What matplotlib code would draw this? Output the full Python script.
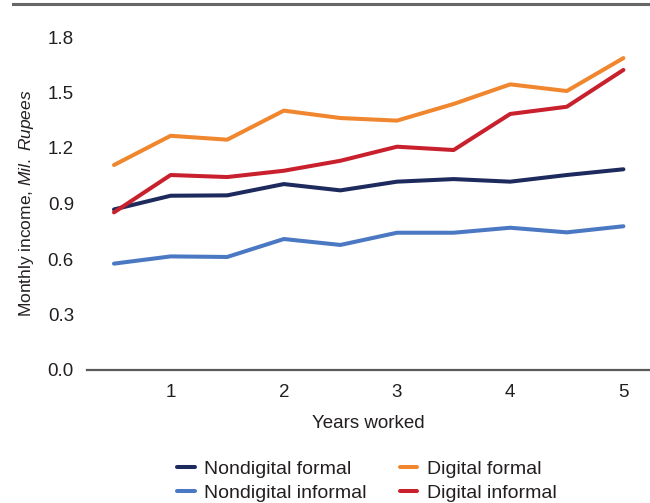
"""
Monthly income by years worked, digital vs nondigital workers
"""

import matplotlib
matplotlib.use('Agg')
import matplotlib.pyplot as plt
from matplotlib.lines import Line2D

# 数据
years = [0.5, 1, 1.5, 2, 2.5, 3, 3.5, 4, 4.5, 5]
nondigital_formal = [0.868, 0.942, 0.944, 1.005, 0.971, 1.018, 1.032, 1.018, 1.054, 1.085]
nondigital_informal = [0.575, 0.614, 0.611, 0.708, 0.676, 0.742, 0.742, 0.769, 0.744, 0.777]
digital_formal = [1.108, 1.266, 1.245, 1.402, 1.362, 1.348, 1.438, 1.544, 1.508, 1.686]
digital_informal = [0.852, 1.054, 1.043, 1.077, 1.131, 1.207, 1.189, 1.384, 1.423, 1.622]

y_ticks = [0.0, 0.3, 0.6, 0.9, 1.2, 1.5, 1.8]
x_ticks = [1, 2, 3, 4, 5]

plt.rcParams['font.family'] = ['Liberation Sans Narrow', 'Liberation Sans', 'DejaVu Sans']
plt.rcParams['mathtext.fontset'] = 'custom'
plt.rcParams['mathtext.rm'] = 'Liberation Sans'
plt.rcParams['mathtext.it'] = 'Liberation Sans:italic'

TEXT = '#231f20'

fig = plt.figure(figsize=(6.5, 5.03), dpi=100)
ax = fig.add_axes([87 / 650, 133 / 503, 563 / 650, 350 / 503])

ax.plot(years, nondigital_formal, color='#1c2a5e', lw=2.9, solid_capstyle='round', label='Nondigital formal')
ax.plot(years, nondigital_informal, color='#4a78c2', lw=2.9, solid_capstyle='round', label='Nondigital informal')
ax.plot(years, digital_formal, color='#f0862e', lw=2.9, solid_capstyle='round', label='Digital formal')
ax.plot(years, digital_informal, color='#c8202d', lw=2.9, solid_capstyle='round', label='Digital informal')

ax.set_xlim(0.5 - 27 / 113.2, 0.5 + 536 / 113.2)
ax.set_ylim(0, 350 / 185)
ax.set_xticks(x_ticks)
ax.set_yticks(y_ticks)
ax.set_yticklabels([f'{v:.1f}' for v in y_ticks])
ax.tick_params(axis='both', length=0, labelsize=13.5, colors=TEXT)
ax.tick_params(axis='x', pad=10)
ax.tick_params(axis='y', pad=9.4)

for side in ['top', 'right', 'left']:
    ax.spines[side].set_visible(False)
ax.spines['bottom'].set_color('#5a5a5a')
ax.spines['bottom'].set_linewidth(1.6)

ax.set_xlabel('Years worked', fontsize=13.5, color=TEXT, labelpad=10)
ax.set_ylabel(r'Monthly income, $\mathit{Mil.\ Rupees}$', fontsize=12.5, color=TEXT)
ax.yaxis.set_label_coords(-0.09, 0.477)

# 图例: 两列
handles, labels = ax.get_legend_handles_labels()
fig.legend(handles, labels, ncol=2, loc='center', bbox_to_anchor=(367 / 650, 1 - 481 / 503),
           frameon=False, fontsize=14, handlelength=0.9, handletextpad=0.5,
           columnspacing=1.7, labelspacing=0.35, labelcolor=TEXT)

# 顶部灰线
fig.add_artist(Line2D([13 / 650, 1], [1 - 4 / 503, 1 - 4 / 503], color='#666666', lw=2.2,
                      transform=fig.transFigure))

fig.savefig('out.png', dpi=100)
